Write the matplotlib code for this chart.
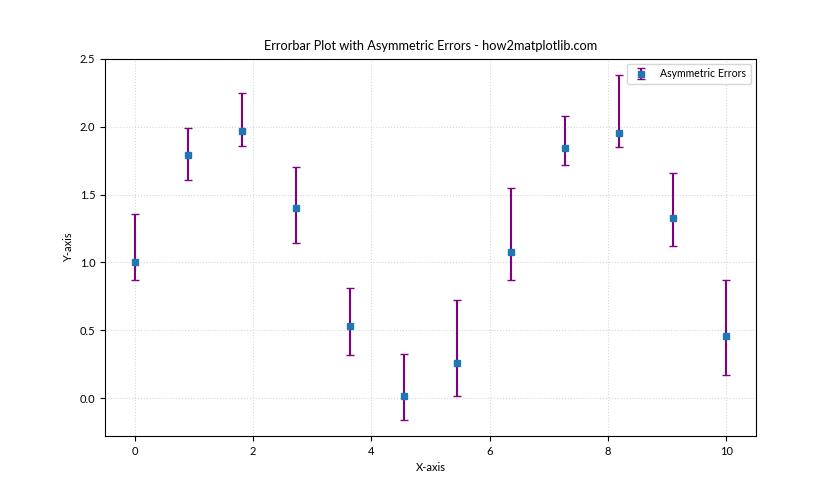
import matplotlib.pyplot as plt

plt.rcParams['font.family'] = ['Lato', 'DejaVu Sans']

x = [0.0, 0.909, 1.818, 2.727, 3.636, 4.545, 5.455, 6.364, 7.273, 8.182, 9.091, 10.0]
y = [1.00, 1.79, 1.97, 1.40, 0.53, 0.013, 0.257, 1.08, 1.84, 1.95, 1.33, 0.46]
y_top = [1.36, 1.99, 2.25, 1.70, 0.81, 0.324, 0.72, 1.55, 2.08, 2.38, 1.66, 0.87]
y_bottom = [0.87, 1.61, 1.86, 1.14, 0.32, -0.165, 0.013, 0.87, 1.72, 1.85, 1.12, 0.17]

lower = [a - b for a, b in zip(y, y_bottom)]
upper = [b - a for a, b in zip(y, y_top)]

fig, ax = plt.subplots(figsize=(8.4, 4.9), dpi=100)

ax.errorbar(x, y, yerr=[lower, upper], fmt='s', color='tab:blue', ecolor='purple',
            elinewidth=1.5, capsize=3, markersize=5, label='Asymmetric Errors')

ax.set_title('Errorbar Plot with Asymmetric Errors - how2matplotlib.com', fontsize=9.2)
ax.set_xlabel('X-axis', fontsize=8)
ax.set_ylabel('Y-axis', fontsize=8)
ax.tick_params(labelsize=8)
ax.set_ylim(-0.28, 2.5)
ax.legend(loc='upper right', fontsize=7.6)
ax.grid(True, linestyle=':', alpha=0.5)

plt.savefig('out.png')
